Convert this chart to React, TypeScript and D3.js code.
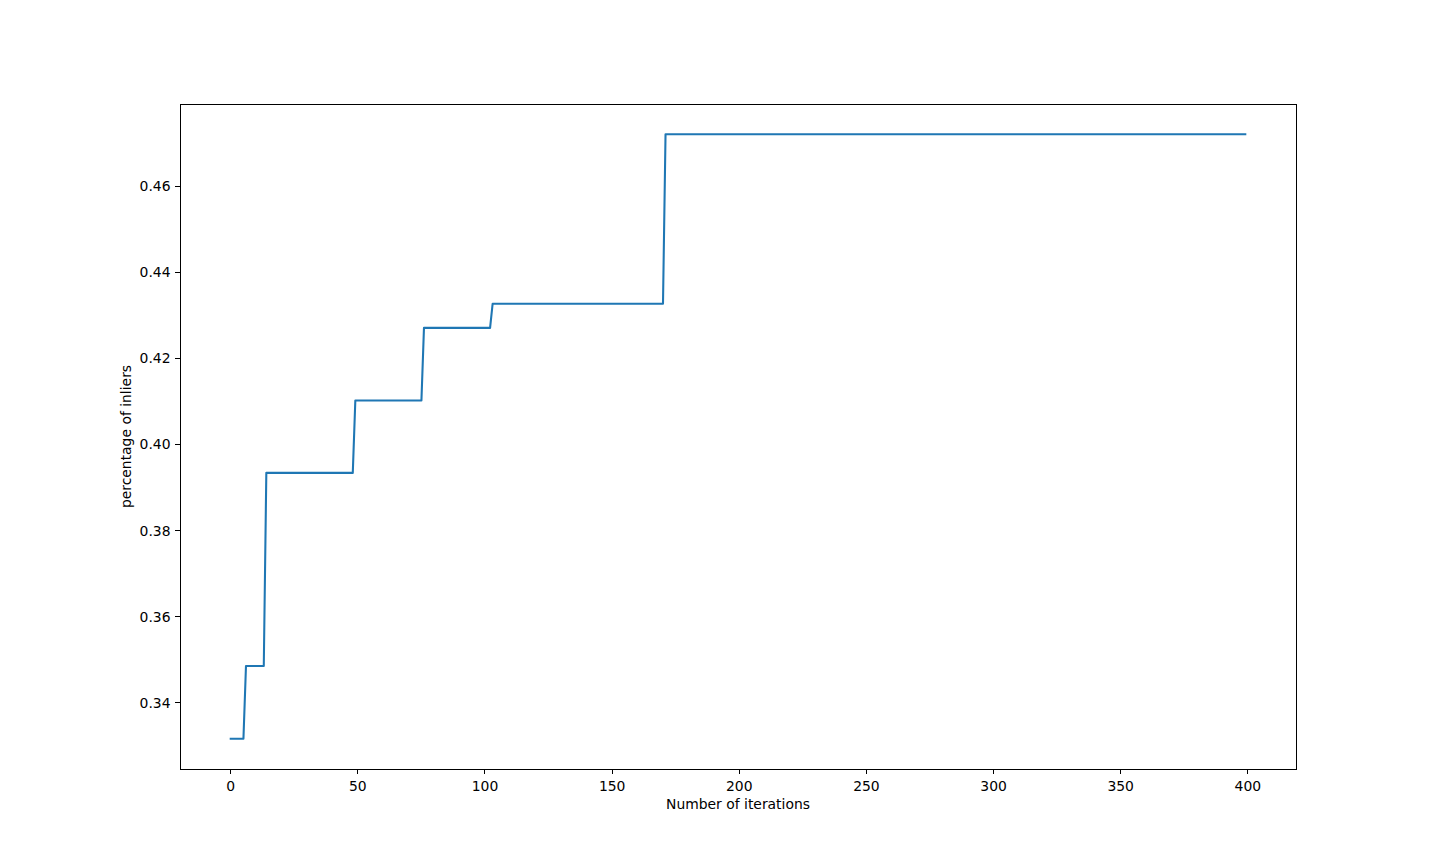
import * as d3 from 'd3';

const WIDTH = 1440;
const HEIGHT = 864;
const MARGIN = { top: 104, right: 144, bottom: 95, left: 180 };

// step points of the best-so-far inlier ratio (iteration, value)
const iterations = [0, 5, 6, 13, 14, 48, 49, 75, 76, 102, 103, 170, 171, 399];
const inlierRatio = [
  0.3316, 0.3316, 0.3485, 0.3485, 0.3934, 0.3934, 0.4102, 0.4102, 0.4271, 0.4271, 0.4327,
  0.4327, 0.4721, 0.4721,
];
const xTicks = [0, 50, 100, 150, 200, 250, 300, 350, 400];
const yTicks = [0.34, 0.36, 0.38, 0.4, 0.42, 0.44, 0.46];

const FONT = 'DejaVu Sans, sans-serif';

export default function App() {
  const boundsWidth = WIDTH - MARGIN.left - MARGIN.right;
  const boundsHeight = HEIGHT - MARGIN.top - MARGIN.bottom;

  const xMin = d3.min(iterations) ?? 0;
  const xMax = d3.max(iterations) ?? 1;
  const xPad = (xMax - xMin) * 0.05;
  const xScale = d3
    .scaleLinear()
    .domain([xMin - xPad, xMax + xPad])
    .range([0, boundsWidth]);

  const yMin = d3.min(inlierRatio) ?? 0;
  const yMax = d3.max(inlierRatio) ?? 1;
  const yPad = (yMax - yMin) * 0.05;
  const yScale = d3
    .scaleLinear()
    .domain([yMin - yPad, yMax + yPad])
    .range([boundsHeight, 0]);

  const points: [number, number][] = iterations.map((it, i) => [it, inlierRatio[i]]);
  const path =
    d3
      .line<[number, number]>()
      .x((d) => xScale(d[0]))
      .y((d) => yScale(d[1]))(points) ?? '';

  return (
    <svg
      width={WIDTH}
      height={HEIGHT}
      style={{ position: 'absolute', top: 0, left: 0, background: '#fff' }}
      fontFamily={FONT}
    >
      <g transform={`translate(${MARGIN.left},${MARGIN.top})`}>
        <path d={path} fill="none" stroke="#1f77b4" strokeWidth={2.08} strokeLinejoin="round" strokeLinecap="square" />

        <rect
          x={0.5}
          y={0.5}
          width={boundsWidth}
          height={boundsHeight}
          fill="none"
          stroke="#000"
          strokeWidth={1}
          shapeRendering="crispEdges"
        />

        {xTicks.map((t) => (
          <g key={t} transform={`translate(${xScale(t)},${boundsHeight})`}>
            <line y1={0} y2={4.9} stroke="#000" strokeWidth={1} shapeRendering="crispEdges" />
            <text y={17} textAnchor="middle" dominantBaseline="central" fontSize={13.9} fill="#000">
              {t}
            </text>
          </g>
        ))}

        {yTicks.map((t) => (
          <g key={t} transform={`translate(0,${yScale(t)})`}>
            <line x1={0} x2={-4.9} stroke="#000" strokeWidth={1} shapeRendering="crispEdges" />
            <text x={-9.5} textAnchor="end" dominantBaseline="central" fontSize={13.9} fill="#000">
              {t.toFixed(2)}
            </text>
          </g>
        ))}

        <text
          x={boundsWidth / 2}
          y={boundsHeight + 35}
          textAnchor="middle"
          dominantBaseline="central"
          fontSize={13.9}
          fill="#000"
        >
          Number of iterations
        </text>
        <text
          transform={`translate(-54,${boundsHeight / 2}) rotate(-90)`}
          textAnchor="middle"
          dominantBaseline="central"
          fontSize={13.9}
          fill="#000"
        >
          percentage of inliers
        </text>
      </g>
    </svg>
  );
}
